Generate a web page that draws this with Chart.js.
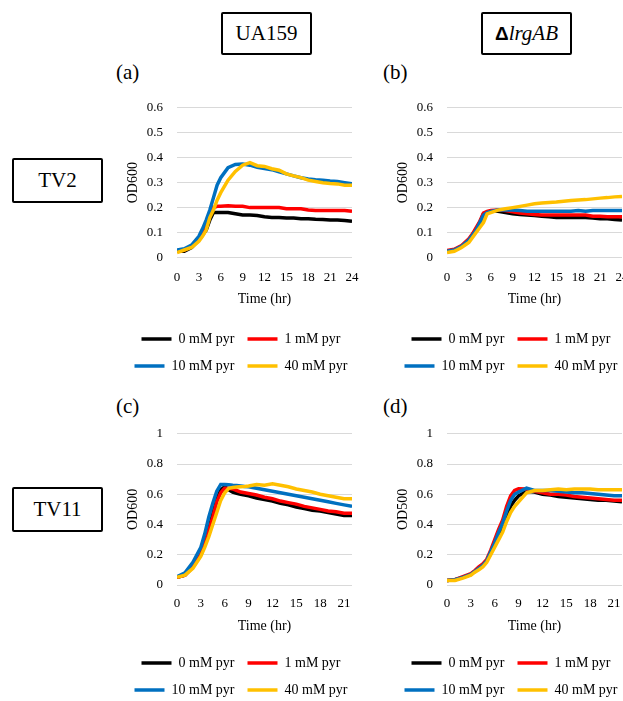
<!DOCTYPE html>
<html>
<head>
    <meta charset="utf-8">
    <title>Growth curves</title>
    <script src="https://cdn.jsdelivr.net/npm/chart.js"></script>
    <style>
        html, body { margin: 0; padding: 0; background: #fff; overflow: hidden; }
        body { width: 623px; height: 701px; position: relative; font-family: "Liberation Serif", serif; color: #000; }
        .box {
            position: absolute; box-sizing: border-box; border: 2px solid #000; border-radius: 2px;
            display: flex; align-items: center; justify-content: center;
            font-family: "Liberation Serif", serif; font-size: 21px;
        }
        .tag { position: absolute; font-family: "Liberation Serif", serif; font-size: 21px; line-height: 1; }
        canvas { position: absolute; }
    </style>
</head>
<body>
    <div class="box" style="left:221px;top:12px;width:91px;height:43px">UA159</div>
    <div class="box" style="left:481px;top:12px;width:91px;height:43px"><b style="font-family:'Liberation Sans';font-size:19px">Δ</b><i>lrgAB</i></div>
    <div class="box" style="left:12px;top:158px;width:91px;height:45px">TV2</div>
    <div class="box" style="left:12px;top:487px;width:91px;height:45px">TV11</div>

    <div class="tag" style="left:116px;top:62px">(a)</div>
    <div class="tag" style="left:383px;top:62px">(b)</div>
    <div class="tag" style="left:116px;top:396px">(c)</div>
    <div class="tag" style="left:383px;top:396px">(d)</div>

    <!-- the y tick padding (14) also reserves ~21px above the plot, hence the canvas tops -->
    <canvas id="chartA" width="272" height="297" style="left:105px;top:86px"></canvas>
    <canvas id="chartB" width="272" height="297" style="left:375px;top:86px"></canvas>
    <canvas id="chartC" width="272" height="295" style="left:105px;top:412px"></canvas>
    <canvas id="chartD" width="272" height="295" style="left:375px;top:412px"></canvas>

    <script>
        // legend names and colours
        const seriesNames = ['0 mM pyr', '1 mM pyr', '10 mM pyr', '40 mM pyr'];
        const seriesColors = ['#000000', '#ff0000', '#0070c0', '#ffc000'];

        // TV2 (top row), hours
        const timeTop = [0, 1, 2, 3, 3.5, 4, 4.5, 5, 5.5, 6, 7, 8, 9, 10, 11, 12, 13, 14, 15, 16, 17, 18, 19, 20, 21, 22, 23, 24];
        const aBlack  = [0.025, 0.025, 0.04, 0.07, 0.09, 0.11, 0.15, 0.18, 0.18, 0.18, 0.18, 0.175, 0.17, 0.17, 0.168, 0.163, 0.16, 0.16, 0.158, 0.158, 0.155, 0.155, 0.153, 0.152, 0.15, 0.15, 0.148, 0.145];
        const aRed    = [0.025, 0.03, 0.045, 0.075, 0.1, 0.13, 0.18, 0.2, 0.205, 0.205, 0.207, 0.205, 0.205, 0.2, 0.2, 0.2, 0.2, 0.2, 0.195, 0.195, 0.195, 0.19, 0.188, 0.188, 0.188, 0.188, 0.188, 0.185];
        const aBlue   = [0.03, 0.035, 0.05, 0.085, 0.115, 0.15, 0.19, 0.24, 0.29, 0.32, 0.36, 0.373, 0.375, 0.37, 0.362, 0.357, 0.352, 0.343, 0.335, 0.327, 0.32, 0.315, 0.312, 0.31, 0.307, 0.305, 0.3, 0.295];
        const aYellow = [0.02, 0.03, 0.04, 0.065, 0.085, 0.11, 0.16, 0.19, 0.23, 0.26, 0.31, 0.345, 0.37, 0.38, 0.368, 0.365, 0.356, 0.35, 0.335, 0.327, 0.32, 0.31, 0.305, 0.3, 0.297, 0.295, 0.29, 0.29];

        const bBlack  = [0.025, 0.03, 0.045, 0.07, 0.09, 0.115, 0.14, 0.175, 0.182, 0.185, 0.185, 0.18, 0.175, 0.172, 0.17, 0.168, 0.165, 0.163, 0.16, 0.16, 0.16, 0.16, 0.16, 0.158, 0.155, 0.155, 0.152, 0.15];
        const bRed    = [0.028, 0.033, 0.048, 0.075, 0.095, 0.12, 0.145, 0.178, 0.185, 0.188, 0.19, 0.188, 0.183, 0.178, 0.175, 0.172, 0.17, 0.17, 0.17, 0.17, 0.17, 0.17, 0.17, 0.165, 0.165, 0.163, 0.163, 0.163];
        const bBlue   = [0.025, 0.03, 0.045, 0.07, 0.09, 0.11, 0.14, 0.17, 0.18, 0.185, 0.19, 0.19, 0.19, 0.188, 0.185, 0.185, 0.185, 0.185, 0.185, 0.185, 0.185, 0.188, 0.185, 0.188, 0.188, 0.188, 0.188, 0.188];
        const bYellow = [0.02, 0.025, 0.04, 0.06, 0.08, 0.1, 0.12, 0.14, 0.175, 0.18, 0.19, 0.195, 0.2, 0.205, 0.21, 0.215, 0.218, 0.22, 0.222, 0.225, 0.228, 0.23, 0.232, 0.235, 0.238, 0.24, 0.243, 0.245];

        // TV11 (bottom row), hours
        const timeBottom = [0, 1, 2, 3, 3.5, 4, 4.5, 5, 5.5, 6, 6.5, 7, 7.5, 8, 8.5, 9, 10, 11, 12, 13, 14, 15, 16, 17, 18, 19, 20, 21, 22];
        const cBlack  = [0.05, 0.065, 0.12, 0.2, 0.27, 0.37, 0.47, 0.57, 0.63, 0.65, 0.63, 0.615, 0.607, 0.6, 0.595, 0.59, 0.575, 0.565, 0.555, 0.54, 0.53, 0.515, 0.505, 0.495, 0.49, 0.48, 0.47, 0.46, 0.46];
        const cRed    = [0.05, 0.065, 0.12, 0.2, 0.27, 0.36, 0.45, 0.55, 0.61, 0.64, 0.64, 0.635, 0.625, 0.615, 0.61, 0.605, 0.595, 0.58, 0.57, 0.555, 0.545, 0.535, 0.52, 0.51, 0.5, 0.49, 0.485, 0.475, 0.475];
        const cBlue   = [0.055, 0.08, 0.15, 0.25, 0.34, 0.45, 0.54, 0.62, 0.665, 0.665, 0.663, 0.66, 0.658, 0.655, 0.652, 0.65, 0.64, 0.63, 0.62, 0.61, 0.6, 0.59, 0.58, 0.57, 0.56, 0.55, 0.54, 0.53, 0.52];
        const cYellow = [0.05, 0.065, 0.11, 0.19, 0.25, 0.32, 0.4, 0.48, 0.56, 0.61, 0.64, 0.645, 0.648, 0.65, 0.652, 0.655, 0.665, 0.66, 0.67, 0.66, 0.65, 0.635, 0.625, 0.615, 0.6, 0.59, 0.58, 0.57, 0.57];

        const dBlack  = [0.03, 0.035, 0.05, 0.07, 0.09, 0.11, 0.13, 0.16, 0.21, 0.27, 0.33, 0.385, 0.45, 0.52, 0.56, 0.59, 0.62, 0.615, 0.6, 0.595, 0.585, 0.58, 0.575, 0.57, 0.565, 0.56, 0.56, 0.555, 0.55];
        const dRed    = [0.03, 0.035, 0.055, 0.075, 0.095, 0.12, 0.14, 0.17, 0.23, 0.3, 0.37, 0.43, 0.52, 0.59, 0.625, 0.637, 0.635, 0.62, 0.61, 0.6, 0.6, 0.595, 0.585, 0.58, 0.575, 0.57, 0.565, 0.56, 0.56];
        const dBlue   = [0.03, 0.035, 0.05, 0.07, 0.09, 0.11, 0.13, 0.16, 0.22, 0.28, 0.35, 0.41, 0.49, 0.56, 0.6, 0.615, 0.64, 0.625, 0.625, 0.625, 0.62, 0.615, 0.61, 0.61, 0.605, 0.6, 0.595, 0.59, 0.59];
        const dYellow = [0.03, 0.03, 0.045, 0.065, 0.085, 0.1, 0.12, 0.15, 0.2, 0.25, 0.3, 0.35, 0.42, 0.48, 0.52, 0.55, 0.61, 0.625, 0.625, 0.63, 0.635, 0.63, 0.635, 0.635, 0.635, 0.63, 0.63, 0.63, 0.63];

        const FONT = 'Liberation Serif';
        Chart.defaults.font.family = FONT;
        Chart.defaults.color = '#000';

        function makeChart(id, times, series, cfg) {
            const datasets = series.map((vals, i) => ({
                label: seriesNames[i],
                data: times.map((t, k) => ({ x: t, y: vals[k] })),
                borderColor: seriesColors[i],
                backgroundColor: seriesColors[i],
                borderWidth: 3.5,
                pointRadius: 0,
                tension: 0,
                fill: false,
                order: 3 - i   // yellow drawn on top
            }));

            return new Chart(document.getElementById(id), {
                type: 'line',
                data: { datasets: datasets },
                options: {
                    responsive: false,
                    animation: false,
                    layout: { padding: 0 },
                    plugins: {
                        tooltip: { enabled: false },
                        legend: {
                            position: 'bottom',
                            labels: {
                                usePointStyle: true,
                                pointStyle: 'line',
                                pointStyleWidth: 30,
                                padding: 13,
                                color: '#000',
                                font: { family: FONT, size: 14 },
                                sort: (a, b) => a.datasetIndex - b.datasetIndex
                            }
                        }
                    },
                    scales: {
                        x: {
                            type: 'linear',
                            min: 0,
                            max: cfg.xMax,
                            ticks: { stepSize: 3, includeBounds: false, padding: cfg.xTickPad, color: '#000', font: { size: 13 } },
                            grid: { display: false, drawTicks: false },
                            border: { display: false },
                            title: { display: true, text: 'Time (hr)', color: '#000', font: { size: 14 }, padding: { top: 0, bottom: cfg.xTitlePad } },
                            afterFit: (s) => { s.height = cfg.xHeight; }
                        },
                        y: {
                            min: 0,
                            max: cfg.yMax,
                            ticks: {
                                stepSize: cfg.yStep, padding: 14, color: '#000', font: { size: 13 },
                                callback: (v) => String(Math.round(v * 10) / 10)
                            },
                            grid: { color: '#d9d9d9', drawTicks: false, lineWidth: 1 },
                            border: { display: false },
                            title: { display: true, text: cfg.yTitle, color: '#000', font: { size: 14 }, padding: { top: 20, bottom: 0 } },
                            afterFit: (s) => { s.width = 72; }
                        },
                        // empty strip on the right, so the legend centre sits left of the plot centre
                        pad: {
                            position: 'right',
                            display: true,
                            ticks: { display: false },
                            grid: { display: false },
                            border: { display: false },
                            afterFit: (s) => { s.width = 25; }
                        }
                    }
                }
            });
        }

        const topCfg = { xMax: 24, yMax: 0.6, yStep: 0.1, yTitle: 'OD600', xTickPad: 12, xTitlePad: 11.6, xHeight: 61.5 };
        makeChart('chartA', timeTop, [aBlack, aRed, aBlue, aYellow], topCfg);
        makeChart('chartB', timeTop, [bBlack, bRed, bBlue, bYellow], topCfg);

        const botCfg = { xMax: 22, yMax: 1, yStep: 0.2, xTickPad: 11, xTitlePad: 8.6, xHeight: 58 };
        makeChart('chartC', timeBottom, [cBlack, cRed, cBlue, cYellow], Object.assign({ yTitle: 'OD600' }, botCfg));
        makeChart('chartD', timeBottom, [dBlack, dRed, dBlue, dYellow], Object.assign({ yTitle: 'OD500' }, botCfg));
    </script>
</body>
</html>
